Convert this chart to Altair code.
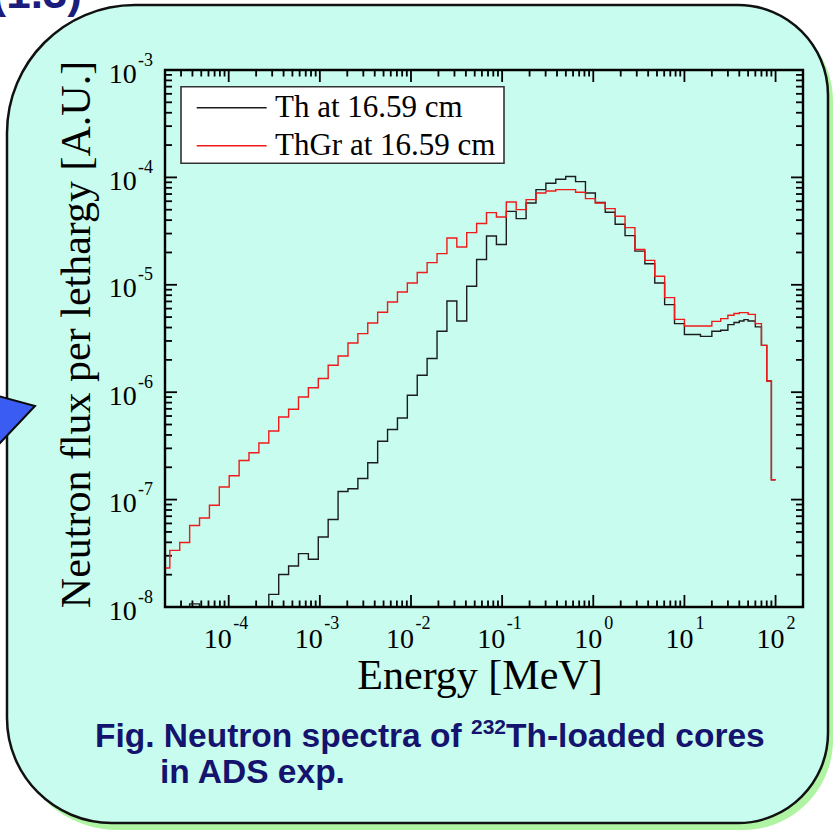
import altair as alt
import pandas as pd

# ---------------------------------------------------------------------------
# Spectrum data: energy-bin lower edges [MeV] and flux per lethargy [A.U.]
# (equal-lethargy bins below 10 MeV, coarser bins above)
# ---------------------------------------------------------------------------
bin_lo = [
    1.760e-5, 2.260e-5, 2.902e-5, 3.727e-5, 4.785e-5, 6.144e-5, 7.889e-5,
    1.013e-4, 1.301e-4, 1.670e-4, 2.144e-4, 2.754e-4, 3.536e-4, 4.540e-4,
    5.829e-4, 7.485e-4, 9.611e-4, 1.234e-3, 1.585e-3, 2.035e-3, 2.613e-3,
    3.355e-3, 4.307e-3, 5.531e-3, 7.102e-3, 9.119e-3, 1.171e-2, 1.503e-2,
    1.931e-2, 2.479e-2, 3.183e-2, 4.087e-2, 5.248e-2, 6.738e-2, 8.652e-2,
    0.1111, 0.1426, 0.1832, 0.2352, 0.3020, 0.3877, 0.4979, 0.6393, 0.8208,
    1.054, 1.353, 1.738, 2.231, 2.865, 3.679, 4.724, 6.065, 7.788,
    10.0, 15.0, 20.0, 25.0, 30.0, 35.0, 40.0, 45.0, 50.0, 60.0, 70.0, 80.0, 90.0,
]
bin_top = 100.0

flux_th = [
    5.0e-9, 5.0e-9, 5.0e-9, 1.07e-8, 6.0e-9, 6.0e-9, 7.0e-9,
    7.0e-9, 8.0e-9, 8.0e-9, 9.0e-9, 1.31e-8, 2.01e-8, 2.41e-8,
    3.14e-8, 2.78e-8, 4.49e-8, 6.52e-8, 1.19e-7, 1.26e-7, 1.57e-7,
    2.20e-7, 3.49e-7, 4.49e-7, 5.75e-7, 9.36e-7, 1.44e-6, 2.06e-6,
    3.69e-6, 7.06e-6, 4.60e-6, 9.69e-6, 1.72e-5, 2.85e-5, 2.37e-5,
    4.83e-5, 4.13e-5, 5.78e-5, 7.70e-5, 8.81e-5, 9.60e-5, 1.02e-4, 9.14e-5, 7.16e-5,
    5.83e-5, 4.73e-5, 3.66e-5, 2.87e-5, 2.06e-5, 1.57e-5, 1.04e-5, 6.54e-6, 4.35e-6,
    3.44e-6, 3.31e-6, 3.69e-6, 3.77e-6, 4.26e-6, 4.45e-6, 4.60e-6, 4.74e-6, 4.60e-6,
    4.06e-6, 2.73e-6, 1.27e-6, 1.53e-7,
]

flux_thgr = [
    2.31e-8, 3.37e-8, 3.98e-8, 5.73e-8, 6.74e-8, 8.85e-8, 1.31e-7,
    1.67e-7, 2.31e-7, 2.73e-7, 3.37e-7, 4.35e-7, 5.87e-7, 6.93e-7,
    9.02e-7, 1.10e-6, 1.34e-6, 1.78e-6, 2.17e-6, 2.87e-6, 3.51e-6,
    4.41e-6, 5.55e-6, 6.92e-6, 8.57e-6, 1.04e-5, 1.30e-5, 1.61e-5,
    1.95e-5, 2.73e-5, 2.25e-5, 3.06e-5, 3.72e-5, 4.70e-5, 4.28e-5,
    5.90e-5, 5.01e-5, 6.21e-5, 7.16e-5, 7.47e-5, 7.70e-5, 7.70e-5, 7.27e-5, 6.35e-5,
    5.78e-5, 5.12e-5, 4.35e-5, 3.41e-5, 2.13e-5, 1.69e-5, 1.20e-5, 7.60e-6, 4.77e-6,
    4.13e-6, 4.13e-6, 4.57e-6, 4.84e-6, 5.20e-6, 5.40e-6, 5.51e-6, 5.51e-6, 5.31e-6,
    4.35e-6, 2.73e-6, 1.27e-6, 1.53e-7,
]

series_names = ["Th at 16.59 cm", "ThGr at 16.59 cm"]
series_colors = ["#1c1c1c", "#f01a1a"]

x_tick_exp = [-4, -3, -2, -1, 0, 1, 2]
y_tick_exp = [-8, -7, -6, -5, -4, -3]

x_title = "Energy [MeV]"
y_title = "Neutron flux per lethargy [A.U.]"
caption_parts = ["Fig. Neutron spectra of ", "232", "Th-loaded cores"]
caption_line2 = "in ADS exp."
header_text = "(1.3)"

# ---------------------------------------------------------------------------
# Layout
# ---------------------------------------------------------------------------
W, H = 638, 537
PAD = {"left": 165, "top": 70, "right": 30, "bottom": 225}
SERIF = "Liberation Serif"
SANS = "Liberation Sans"
NAVY = "#14146e"

xs = alt.Scale(type="log", domain=[2e-5, 200], nice=False)
ys = alt.Scale(type="log", domain=[1e-8, 1e-3], nice=False)

one = pd.DataFrame({"k": [0]})


def steps(values):
    rows = [{"energy": e, "flux": v} for e, v in zip(bin_lo, values)]
    rows.append({"energy": bin_top, "flux": values[-1]})
    return pd.DataFrame(rows)


# slide panel with a soft green shadow
corner = dict(cornerRadiusTopLeft=128, cornerRadiusTopRight=90,
              cornerRadiusBottomRight=90, cornerRadiusBottomLeft=105)
shadow = alt.Chart(one).mark_rect(fill="#aef4a2", **corner).encode(
    x=alt.value(-152), x2=alt.value(668), y=alt.value(-59), y2=alt.value(760))
panel = alt.Chart(one).mark_rect(fill="#c8fcee", stroke="#111111", strokeWidth=2.5, **corner).encode(
    x=alt.value(-158), x2=alt.value(663), y=alt.value(-65), y2=alt.value(753))

arrow = alt.Chart(one).mark_point(
    shape="M-200,317L-130,336L-200,410Z", size=4, filled=True, opacity=1,
    fill="#3b5cf2", stroke="#0a0a0a", strokeWidth=2
).encode(x=alt.value(0), y=alt.value(0))

header = alt.Chart(one).mark_text(
    text=header_text, font=SANS, fontWeight="bold", fontSize=44, color="#1c1c7c",
    align="right", baseline="alphabetic"
).encode(x=alt.value(-83), y=alt.value(-62))

# spectra
th_line = alt.Chart(steps(flux_th)).mark_line(
    interpolate="step-after", color=series_colors[0], strokeWidth=1.4, clip=True
).encode(x=alt.X("energy:Q", scale=xs, axis=None), y=alt.Y("flux:Q", scale=ys, axis=None))
thgr_line = alt.Chart(steps(flux_thgr)).mark_line(
    interpolate="step-after", color=series_colors[1], strokeWidth=1.4, clip=True
).encode(x=alt.X("energy:Q", scale=xs, axis=None), y=alt.Y("flux:Q", scale=ys, axis=None))

# inward ticks on all four sides
x_major = [10.0 ** e for e in x_tick_exp]
x_minor = [m * 10.0 ** e for e in range(-5, 3) for m in range(2, 10)
           if 2.01e-5 < m * 10.0 ** e < 199]
y_major = [10.0 ** e for e in y_tick_exp]
y_minor = [m * 10.0 ** e for e in range(-8, -3) for m in range(2, 10)]


def xticks(vals, length, top):
    y0, y1 = (0, length) if top else (H, H - length)
    return alt.Chart(pd.DataFrame({"v": vals})).mark_rule(color="black", strokeWidth=1.8).encode(
        x=alt.X("v:Q", scale=xs, axis=None), y=alt.value(y0), y2=alt.value(y1))


def yticks(vals, length, right):
    x0, x1 = (W, W - length) if right else (0, length)
    return alt.Chart(pd.DataFrame({"v": vals})).mark_rule(color="black", strokeWidth=1.8).encode(
        y=alt.Y("v:Q", scale=ys, axis=None), x=alt.value(x0), x2=alt.value(x1))


ticks = [
    xticks(x_major, 12, False), xticks(x_minor, 6.5, False),
    xticks(x_major, 12, True), xticks(x_minor, 6.5, True),
    yticks(y_major, 12, False), yticks(y_minor, 7, False),
    yticks(y_major, 12, True), yticks(y_minor, 7, True),
]

frame = alt.Chart(one).mark_rect(fillOpacity=0, stroke="black", strokeWidth=2.4).encode(
    x=alt.value(0), x2=alt.value(W), y=alt.value(0), y2=alt.value(H))

# tick labels written as 10 with a raised exponent
xlab = pd.DataFrame({"v": x_major, "e": [str(e) for e in x_tick_exp], "neg": [e < 0 for e in x_tick_exp]})
ylab = pd.DataFrame({"v": y_major, "e": [str(e) for e in y_tick_exp]})


def xlabel_layers(neg):
    data = xlab[xlab["neg"] == neg]
    base_dx, exp_dx = (3, 4.5) if neg else (9, 11)
    base = alt.Chart(data).mark_text(
        text="10", font=SERIF, fontSize=28, color="black", align="right",
        baseline="alphabetic", dx=base_dx
    ).encode(x=alt.X("v:Q", scale=xs, axis=None), y=alt.value(H + 41))
    sup = alt.Chart(data).mark_text(
        font=SERIF, fontSize=18, color="black", align="left",
        baseline="alphabetic", dx=exp_dx
    ).encode(x=alt.X("v:Q", scale=xs, axis=None), y=alt.value(H + 22), text="e:N")
    return [base, sup]


ybase = alt.Chart(ylab).mark_text(
    text="10", font=SERIF, fontSize=28, color="black", align="right",
    baseline="alphabetic", dy=12.5
).encode(y=alt.Y("v:Q", scale=ys, axis=None), x=alt.value(-28.3))
ysup = alt.Chart(ylab).mark_text(
    font=SERIF, fontSize=18, color="black", align="left",
    baseline="alphabetic", dy=-4.5
).encode(y=alt.Y("v:Q", scale=ys, axis=None), x=alt.value(-27), text="e:N")

xtitle = alt.Chart(one).mark_text(
    text=x_title, font=SERIF, fontSize=42, color="black", align="center", baseline="alphabetic"
).encode(x=alt.value(315), y=alt.value(619))
ytitle = alt.Chart(one).mark_text(
    text=y_title, font=SERIF, fontSize=42, color="black", align="center",
    baseline="alphabetic", angle=270
).encode(x=alt.value(-75), y=alt.value(264.5))

# legend box
legend_box = alt.Chart(one).mark_rect(fill="white", stroke="#333333", strokeWidth=1.6).encode(
    x=alt.value(16), x2=alt.value(339), y=alt.value(16.7), y2=alt.value(93.3))
legend_layers = [legend_box]
for i, (name, col) in enumerate(zip(series_names, series_colors)):
    ly = 37.7 + 38 * i
    legend_layers.append(alt.Chart(one).mark_rule(color=col, strokeWidth=1.6).encode(
        x=alt.value(31.7), x2=alt.value(101.7), y=alt.value(ly)))
    legend_layers.append(alt.Chart(one).mark_text(
        text=name, font=SERIF, fontSize=31, color="black", align="left", baseline="alphabetic"
    ).encode(x=alt.value(110), y=alt.value(ly + 9)))


# caption under the plot (isotope mass number set as a superscript)
def caption_text(txt, x, y, size):
    return alt.Chart(one).mark_text(
        text=txt, font=SANS, fontWeight="bold", fontSize=size, color=NAVY,
        align="left", baseline="alphabetic"
    ).encode(x=alt.value(x), y=alt.value(y))


caption = [
    caption_text(caption_parts[0], -70, 677, 33.5),
    caption_text(caption_parts[1], 306, 664, 21),
    caption_text(caption_parts[2], 341, 677, 33.5),
    caption_text(caption_line2, -5, 713, 33.5),
]

chart = alt.layer(
    shadow, panel, arrow, header,
    *ticks,
    th_line, thgr_line,
    *legend_layers,
    frame,
    *xlabel_layers(True), *xlabel_layers(False),
    ybase, ysup, xtitle, ytitle,
    *caption,
).properties(
    width=W, height=H, padding=PAD,
    autosize=alt.AutoSizeParams(type="none"),
    background="white",
).configure_view(stroke="transparent")

chart.save("out.html", embed_options={"renderer": "svg", "actions": False})
